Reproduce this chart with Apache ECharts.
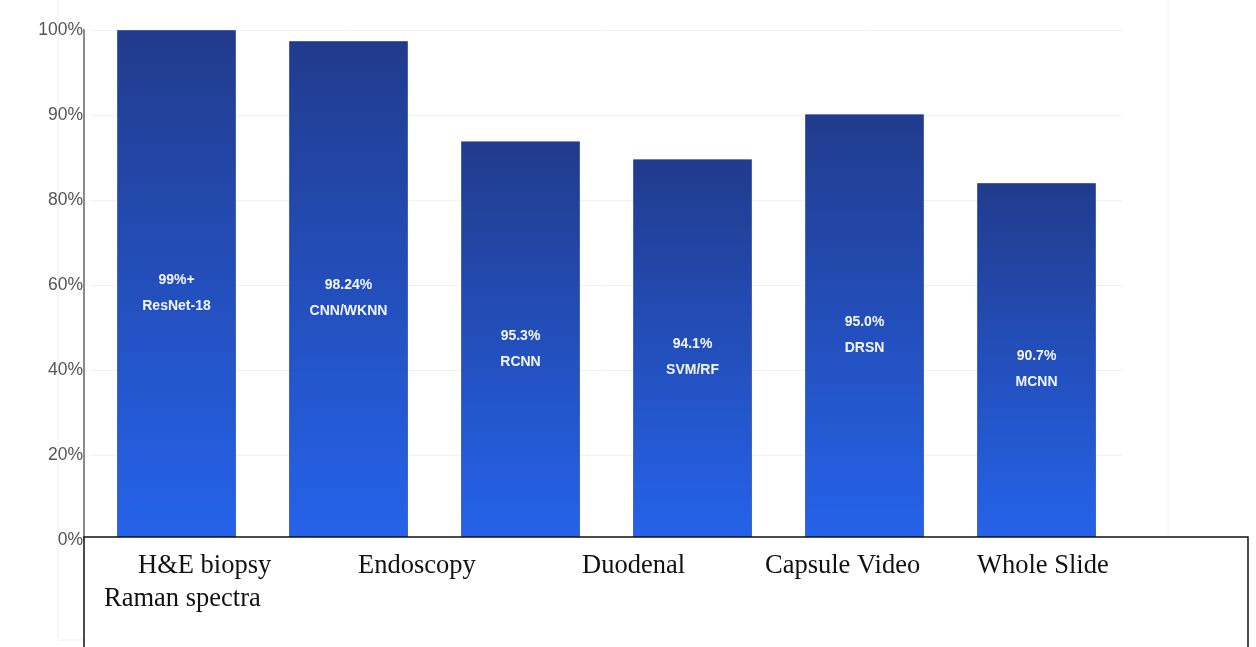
<!DOCTYPE html>
<html>
<head>
<meta charset="utf-8">
<style>
  html, body { margin: 0; padding: 0; background: #ffffff; }
  #chart { width: 1256px; height: 647px; }
</style>
<script src="https://cdn.jsdelivr.net/npm/echarts@6/dist/echarts.min.js"></script>
</head>
<body>
<div id="chart"></div>
<script>
// ---- data ----
var categories = ['H&E biopsy', 'Endoscopy', 'Duodenal', 'Duodenal', 'Capsule Video', 'Whole Slide'];
var boxLabels = ['H&E biopsy', 'Raman spectra', 'Endoscopy', 'Duodenal', 'Capsule Video', 'Whole Slide'];
// bar heights as read against the (irregular) y-axis ticks
var barHeights = [100, 98.7, 86.9, 84.8, 90.1, 82.0];
var accuracyLabels = ['99%+', '98.24%', '95.3%', '94.1%', '95.0%', '90.7%'];
var modelLabels = ['ResNet-18', 'CNN/WKNN', 'RCNN', 'SVM/RF', 'DRSN', 'MCNN'];
var tickLabels = [0, 20, 40, 60, 80, 90, 100];

// axis scale: each tick label occupies one equal step
function toAxis(v) {
  for (var i = 0; i < tickLabels.length - 1; i++) {
    var a = tickLabels[i], b = tickLabels[i + 1];
    if (v <= b) return i + (v - a) / (b - a);
  }
  return tickLabels.length - 1;
}

var chart = echarts.init(document.getElementById('chart'), null, { renderer: 'canvas' });

var boxPos = [
  [138, 566], [104, 599], [358, 566], [582, 566], [765, 566], [977, 566]
];
var graphics = [
  { type: 'line', shape: { x1: 58, y1: 0, x2: 58, y2: 640 }, style: { stroke: '#f0f0f0', lineWidth: 1 }, z: 0 },
  { type: 'line', shape: { x1: 58, y1: 640, x2: 84, y2: 640 }, style: { stroke: '#f0f0f0', lineWidth: 1 }, z: 0 },
  { type: 'line', shape: { x1: 1168, y1: 0, x2: 1168, y2: 537 }, style: { stroke: '#f0f0f0', lineWidth: 1 }, z: 0 },
  { type: 'rect', shape: { x: 84, y: 537, width: 1164, height: 130 },
    style: { fill: '#ffffff', stroke: '#111111', lineWidth: 1.5 }, z: 100 }
];
for (var i = 0; i < boxLabels.length; i++) {
  graphics.push({
    type: 'text', x: boxPos[i][0], y: boxPos[i][1], z: 101,
    style: {
      text: boxLabels[i], fill: '#111111',
      font: '26.5px "Liberation Serif", "Times New Roman", serif',
      textVerticalAlign: 'middle', textAlign: 'left'
    }
  });
}

var option = {
  backgroundColor: '#ffffff',
  animation: false,
  grid: { left: 90.5, right: 133.5, top: 30, bottom: 107, containLabel: false },
  xAxis: {
    type: 'category',
    data: categories,
    axisLine: { show: false },
    axisTick: { show: false },
    axisLabel: { show: false },
    splitLine: { show: false }
  },
  yAxis: {
    type: 'value',
    min: 0, max: 6, interval: 1,
    offset: 6.5,
    axisLine: { show: true, lineStyle: { color: '#8a8a8a', width: 2 } },
    axisTick: { show: false },
    axisLabel: {
      color: '#555555', fontSize: 17.5, margin: 1,
      fontFamily: '"Liberation Sans", Arial, sans-serif',
      formatter: function (v) { return tickLabels[Math.round(v)] + '%'; }
    },
    splitLine: { show: true, lineStyle: { color: '#f1f1f1', width: 1 } }
  },
  series: [{
    type: 'bar',
    barWidth: 119,
    data: barHeights.map(function (v) { return toAxis(v); }),
    itemStyle: {
      color: new echarts.graphic.LinearGradient(0, 0, 0, 1, [
        { offset: 0, color: '#213b8c' },
        { offset: 1, color: '#2563eb' }
      ]),
      borderColor: 'rgba(40,70,160,0.7)',
      borderWidth: 1
    },
    label: {
      show: true,
      position: 'inside',
      offset: [0, 8],
      color: '#f4f6ff',
      fontWeight: 'bold',
      fontSize: 14,
      lineHeight: 26,
      fontFamily: '"Liberation Sans", Arial, sans-serif',
      formatter: function (p) {
        return accuracyLabels[p.dataIndex] + '\n' + modelLabels[p.dataIndex];
      }
    }
  }],
  graphic: graphics
};
chart.setOption(option);
</script>
</body>
</html>
